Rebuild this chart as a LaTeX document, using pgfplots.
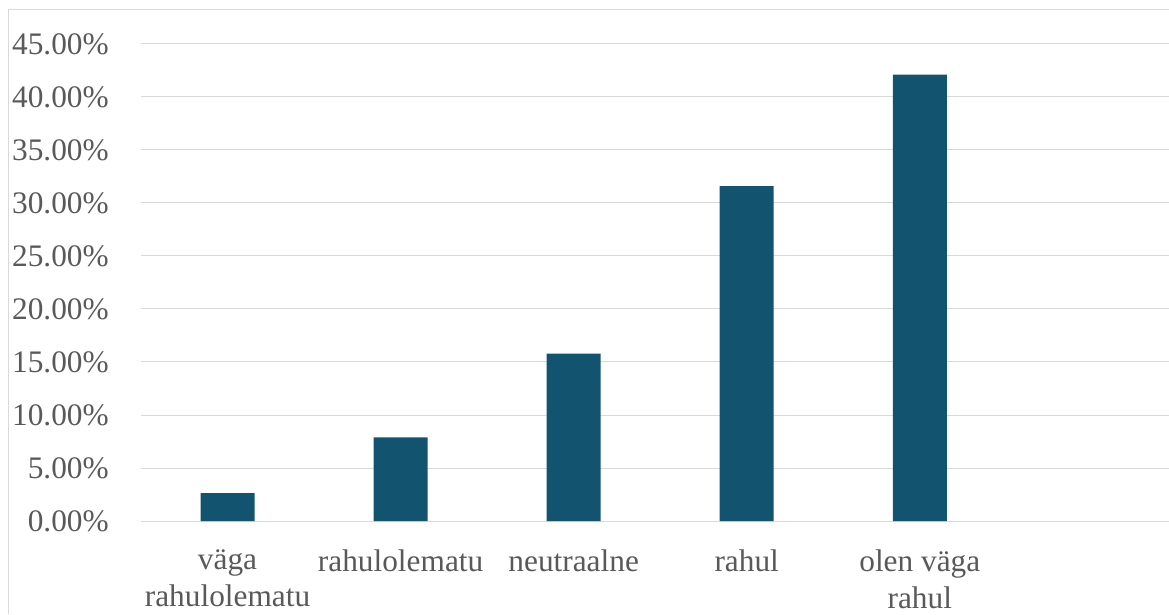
\documentclass[border=0pt]{standalone}
\usepackage{fontspec}
\setmainfont{Liberation Serif}
\usepackage{pgfplots}
\pgfplotsset{compat=1.18}
\definecolor{barblue}{RGB}{18,84,112}
\definecolor{gridgray}{RGB}{217,217,217}
\definecolor{textgray}{RGB}{89,89,89}
\begin{document}
\begin{tikzpicture}
% picture frame (1px = 0.75pt)
\useasboundingbox (0,0) rectangle (876.75pt,460.5pt);
\draw[gridgray, line width=0.75pt] (6pt,0) -- (6pt,453pt) -- (876.75pt,453pt);
\begin{axis}[
  at={(105.75pt,69.75pt)}, anchor=south west,
  scale only axis,
  width=771pt, height=357.75pt,
  xmin=-0.5, xmax=5.44,
  ymin=0, ymax=45,
  xtick={0,1,2,3,4},
  xticklabels={väga\\rahulolematu, rahulolematu, neutraalne, rahul, olen väga\\rahul},
  ytick={0,5,...,45},
  yticklabels={0.00\%,5.00\%,10.00\%,15.00\%,20.00\%,25.00\%,30.00\%,35.00\%,40.00\%,45.00\%},
  ymajorgrids,
  major grid style={gridgray, line width=0.75pt},
  axis line style={draw=none},
  major tick length=0pt,
  tick style={draw=none},
  every tick label/.append style={font=\fontsize{23.5}{27.75}\selectfont, text=textgray},
  xticklabel style={align=center, anchor=north, inner sep=0pt, yshift=-21pt},
  yticklabel style={anchor=east, inner sep=0pt, xshift=-24pt},
  clip=false,
]
\addplot[ybar, bar width=40.5pt, fill=barblue, draw=none]
  coordinates {(0,2.63) (1,7.89) (2,15.79) (3,31.58) (4,42.11)};
\end{axis}
\end{tikzpicture}
\end{document}
